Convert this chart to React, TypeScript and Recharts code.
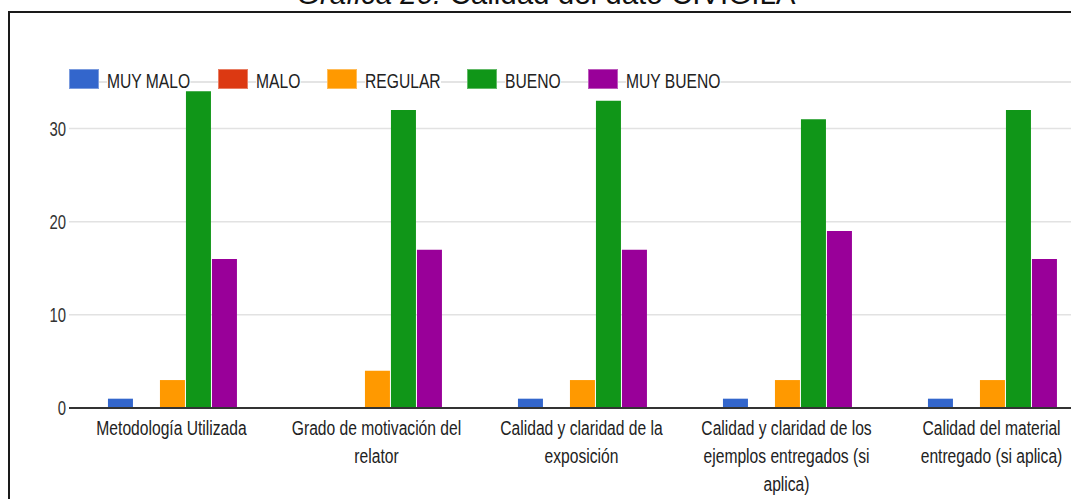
import * as React from "react";
import {
  BarChart,
  Bar,
  XAxis,
  YAxis,
  CartesianGrid,
  ReferenceLine,
} from "recharts";

const categories = [
  "Metodología Utilizada",
  "Grado de motivación del relator",
  "Calidad y claridad de la exposición",
  "Calidad y claridad de los ejemplos entregados (si aplica)",
  "Calidad del material entregado (si aplica)",
];

const muyMalo = [1, 0, 1, 1, 1];
const malo = [0, 0, 0, 0, 0];
const regular = [3, 4, 3, 3, 3];
const bueno = [34, 32, 33, 31, 32];
const muyBueno = [16, 17, 17, 19, 16];

const seriesNames = ["MUY MALO", "MALO", "REGULAR", "BUENO", "MUY BUENO"];
const seriesColors = ["#3366cc", "#dc3912", "#ff9900", "#109618", "#990099"];

const yTicks = [0, 10, 20, 30];
const yMax = 35;

const title = { italic: "Gráfica 20:", rest: " Calidad del dato CIVIGILA" };

// no narrow face is installed, so Arial-metric text is squeezed horizontally
const font = "'Liberation Sans', Arial, sans-serif";
const squeeze = 0.745;
const labelSize = 21;
const labelWrap = 195; // px, after squeezing
const legendX = [69, 218, 327, 467, 588];

const seriesValues = [muyMalo, malo, regular, bueno, muyBueno];
const series = seriesNames.map((name, i) => ({
  key: `s${i}`,
  name,
  color: seriesColors[i],
}));
const data = categories.map((c, ci) => {
  const row: Record<string, string | number> = { name: c };
  seriesValues.forEach((vals, si) => {
    row[`s${si}`] = vals[ci];
  });
  return row;
});

let ctx: CanvasRenderingContext2D | null = null;
function wrap(text: string, size: number, maxWidth: number) {
  if (!ctx) ctx = document.createElement("canvas").getContext("2d");
  if (!ctx) return [text];
  ctx.font = `${size}px ${font}`;
  const lines: string[] = [];
  let cur = "";
  for (const w of text.split(" ")) {
    const test = cur ? `${cur} ${w}` : w;
    if (!cur || ctx.measureText(test).width <= maxWidth) cur = test;
    else {
      lines.push(cur);
      cur = w;
    }
  }
  if (cur) lines.push(cur);
  return lines;
}

function CategoryTick(props: any) {
  const { x, y, payload } = props;
  const lines = wrap(String(payload.value), labelSize, labelWrap / squeeze);
  return (
    <g transform={`translate(${x},${y + 13}) scale(${squeeze},1)`}>
      <text
        textAnchor="middle"
        fill="#222"
        fontSize={labelSize}
        fontFamily={font}
      >
        {lines.map((l, i) => (
          <tspan key={i} x={0} y={i * 28}>
            {l}
          </tspan>
        ))}
      </text>
    </g>
  );
}

function ValueTick(props: any) {
  const { x, y, payload } = props;
  return (
    <g transform={`translate(${x + 7},${y}) scale(${squeeze},1)`}>
      <text
        textAnchor="end"
        dy="0.36em"
        fill="#333"
        fontSize={20}
        fontFamily={font}
      >
        {payload.value}
      </text>
    </g>
  );
}

export default function App() {
  return (
    <div
      style={{
        position: "absolute",
        left: 0,
        top: 0,
        width: 1071,
        height: 499,
        overflow: "hidden",
        background: "#fff",
      }}
    >
      {/* frame */}
      <div
        style={{
          position: "absolute",
          left: 8,
          top: 11,
          width: 2000,
          height: 2000,
          border: "2px solid #1a1a1a",
          boxSizing: "border-box",
        }}
      />
      <div style={{ position: "absolute", left: 0, top: 0 }}>
        <BarChart
          width={1100}
          height={499}
          data={data}
          margin={{ top: 82, right: 6, bottom: 0, left: 8 }}
          barCategoryGap="19%"
          barGap={1}
        >
          <CartesianGrid vertical={false} stroke="#e2e2e2" strokeWidth={1.5} />
          <ReferenceLine y={yMax} stroke="#e2e2e2" strokeWidth={1.5} />
          <XAxis
            dataKey="name"
            interval={0}
            height={91}
            tickLine={false}
            tickMargin={8}
            axisLine={{ stroke: "#333", strokeWidth: 2 }}
            tick={<CategoryTick />}
          />
          <YAxis
            width={61}
            domain={[0, yMax]}
            ticks={yTicks}
            tickLine={false}
            axisLine={false}
            tickMargin={4}
            tick={<ValueTick />}
          />
          {series.map((s) => (
            <Bar
              key={s.key}
              dataKey={s.key}
              name={s.name}
              fill={s.color}
              isAnimationActive={false}
            />
          ))}
        </BarChart>
      </div>
      {/* legend */}
      {series.map((s, i) => (
        <div
          key={s.key}
          style={{
            position: "absolute",
            left: legendX[i],
            top: 69,
            display: "flex",
            alignItems: "center",
            height: 20,
            fontFamily: font,
            fontSize: labelSize,
            color: "#222",
          }}
        >
          <div
            style={{
              width: 30,
              height: 20,
              background: s.color,
              boxShadow: "inset 0 0 0 1px rgba(255,255,255,0.35)",
              marginRight: 8,
            }}
          />
          <span
            style={{
              display: "inline-block",
              position: "relative",
              top: 2,
              background: "#fff",
              lineHeight: "20px",
              whiteSpace: "nowrap",
              transform: `scaleX(${squeeze})`,
              transformOrigin: "left center",
            }}
          >
            {s.name}
          </span>
        </div>
      ))}
      {/* title, cut off by the page edge */}
      <svg
        width={1071}
        height={30}
        style={{ position: "absolute", left: 0, top: 0 }}
      >
        <text x={297} y={4} fontSize={29.5} fill="#111" fontFamily={font}>
          <tspan fontStyle="italic">{title.italic}</tspan>
          <tspan>{title.rest}</tspan>
        </text>
      </svg>
    </div>
  );
}
